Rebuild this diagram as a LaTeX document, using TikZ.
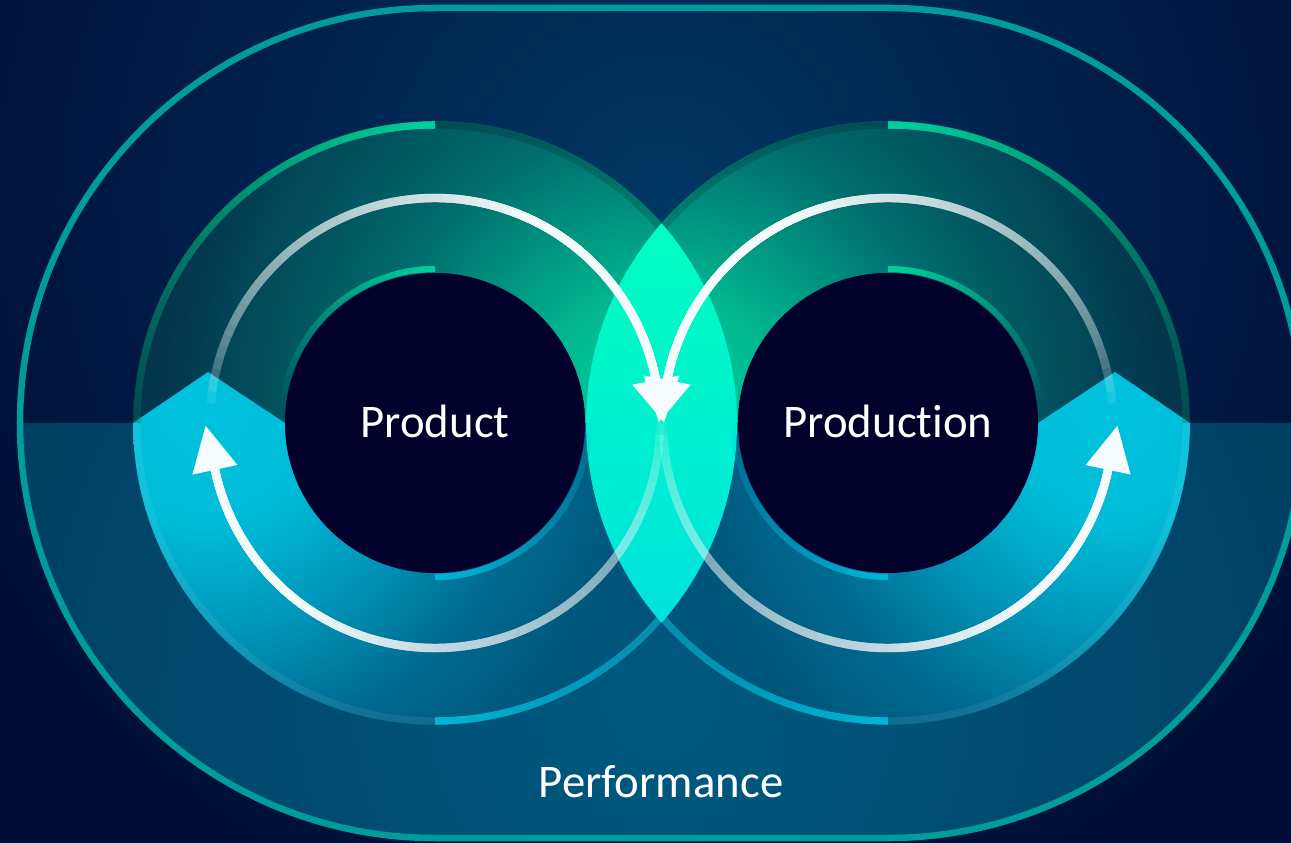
\documentclass[tikz,border=0pt]{standalone}
\usepackage{fontspec}
\setmainfont{Carlito}[Ligatures=NoCommon]
\definecolor{bgA}{HTML}{003863}
\definecolor{bgB}{HTML}{001F4C}
\definecolor{bgC}{HTML}{000E36}
\definecolor{lowA}{HTML}{005A80}
\definecolor{lowB}{HTML}{004A70}
\definecolor{lowC}{HTML}{003C60}
\definecolor{gA}{HTML}{00D4A2}
\definecolor{gB}{HTML}{00B48E}
\definecolor{gC}{HTML}{006A6C}
\definecolor{gD}{HTML}{03354D}
\definecolor{cA}{HTML}{00C2DE}
\definecolor{cB}{HTML}{00BCD8}
\definecolor{cC}{HTML}{0096BA}
\definecolor{cD}{HTML}{006A90}
\definecolor{cE}{HTML}{00557A}
\definecolor{lensT}{HTML}{00FFC0}
\definecolor{lensB}{HTML}{00E2DE}
\definecolor{core}{HTML}{00002A}
\definecolor{stadC}{HTML}{009C9C}
\definecolor{accG}{HTML}{00D4A0}
\definecolor{accC}{HTML}{00B8D8}
\definecolor{arrW}{HTML}{F6FBFD}
\pgfdeclareradialshading{bgsh}{\pgfpoint{0bp}{0bp}}{color(0bp)=(bgA); color(7.5bp)=(bgB); color(14bp)=(bgC); color(50bp)=(bgC)}
\pgfdeclareradialshading{lowsh}{\pgfpoint{0bp}{0bp}}{color(0bp)=(lowA); color(10bp)=(lowB); color(20bp)=(lowC); color(50bp)=(lowC)}
\pgfdeclareradialshading{ringG}{\pgfpoint{0bp}{0bp}}{color(0bp)=(gA); color(4bp)=(gB); color(10bp)=(gC); color(17.5bp)=(gD); color(50bp)=(gD)}
\pgfdeclareradialshading{ringC}{\pgfpoint{0bp}{0bp}}{color(0bp)=(cA); color(3.95bp)=(cB); color(7.85bp)=(cC); color(11.8bp)=(cD); color(15.7bp)=(cE); color(50bp)=(cE)}
% layered fading arc: #1 centre, #2 radius, #3 style, #4 fixed end angle, #5 list of start angles, #6 step, #7 opacity function
\newcommand\layarc[7]{%
  \foreach \v in {#5}{%
    \pgfmathsetmacro\hc{min(0.995,max(0,#7(\v)))}%
    \pgfmathsetmacro\hp{min(0.995,max(0,#7(\v-(#6))))}%
    \pgfmathsetmacro\al{max(0,1-(1-\hc)/(1-\hp))}%
    \draw[#3, opacity=\al] (#1) ++(\v:#2) arc[start angle=\v, end angle=#4, radius=#2];}}
\tikzset{
  stad/.style={draw=stadC, line width=1.85pt},
  accoutG/.style={draw=accG, line width=2pt},
  accoutC/.style={draw=accC, line width=2pt},
  accinG/.style={draw=accG, line width=1.7pt},
  accinC/.style={draw=accC, line width=1.7pt},
  warc/.style={draw=arrW, line width=2.4pt},
  whead/.style={fill=arrW},
  lbl/.style={text=white, font=\fontsize{13.3}{16}\selectfont, inner sep=0pt, anchor=base},
  edge dark/.style={draw=black, opacity=0.15, line width=2pt},
  edge light/.style={draw=white, opacity=0.07, line width=2pt}
}
\begin{document}
\begin{tikzpicture}[x=0.01cm,y=0.01cm,
  declare function={
    wLt(\a)=sqrt(max(0,176-\a)/110);
    wLb(\a)=sqrt(max(0,361-\a)/130);
    wRt(\a)=sqrt(max(0,\a-4)/110);
    wRb(\a)=sqrt(max(0,\a-179)/130);
    oLt(\a)=ifthenelse(\a>181,0,1-(\a-90)/110);
    oRt(\a)=ifthenelse(\a<-1,0,1-(90-\a)/110);
    oLb(\a)=ifthenelse(\a>322,0,1-(\a-270)/100);
    oRb(\a)=ifthenelse(\a<218,0,1-(270-\a)/100);
    iLt(\a)=ifthenelse(\a>181,0,1-(\a-90)/85);
    iRt(\a)=ifthenelse(\a<-1,0,1-(90-\a)/85);
    iLb(\a)=ifthenelse(\a>361,0,1-(\a-270)/100);
    iRb(\a)=ifthenelse(\a<179,0,1-(270-\a)/100);
  }]
\useasboundingbox (0,0) rectangle (1291,842);
\clip (0,0) rectangle (1291,842);
\coordinate (L) at (435,419);
\coordinate (R) at (888,419);
% background
\fill[bgC] (0,0) rectangle (1291,842);
\shade[shading=bgsh] (661,642) circle (1400);
% lower half of stadium
\begin{scope}
\clip (435,419) -- (1303,419) arc[start angle=0,end angle=-90,radius=415] -- (435,4) arc[start angle=270,end angle=180,radius=415] -- cycle;
\shade[shading=lowsh] (661,142) circle (1000);
\end{scope}
% stadium outline
\draw[stad] (435,834) -- (888,834) arc[start angle=90,end angle=-90,radius=415] -- (435,4) arc[start angle=270,end angle=90,radius=415] -- cycle;
% left ring
\begin{scope}
\clip (737,419) arc[start angle=0,end angle=180,radius=302] -- (285,419) arc[start angle=180,end angle=0,radius=150] -- cycle;
\shade[shading=ringG] (650,442) circle (700);
\end{scope}
\begin{scope}
\clip (133,419) -- (208,470) -- (285,419) arc[start angle=180,end angle=360,radius=150] -- (737,419) arc[start angle=0,end angle=-180,radius=302] -- cycle;
\shade[shading=ringC] (205,430) circle (700);
\end{scope}
% right ring
\begin{scope}
\clip (1190,419) arc[start angle=0,end angle=180,radius=302] -- (738,419) arc[start angle=180,end angle=0,radius=150] -- cycle;
\shade[shading=ringG] (673,442) circle (700);
\end{scope}
\begin{scope}
\clip (1190,419) -- (1115,470) -- (1038,419) arc[start angle=0,end angle=-180,radius=150] -- (586,419) arc[start angle=180,end angle=360,radius=302] -- cycle;
\shade[shading=ringC] (1118,430) circle (700);
\end{scope}
% subtle ring edges
\draw[edge dark] (L) ++(0:298) arc[start angle=0,end angle=180,radius=298];
\draw[edge dark] (R) ++(0:298) arc[start angle=0,end angle=180,radius=298];
\draw[edge light] (L) ++(180:298) arc[start angle=180,end angle=360,radius=298];
\draw[edge light] (R) ++(180:298) arc[start angle=180,end angle=360,radius=298];
% outer accents
\layarc{L}{298}{accoutG}{90}{180,177,...,93}{-3}{oLt}
\layarc{R}{298}{accoutG}{90}{0,3,...,87}{3}{oRt}
\layarc{L}{298}{accoutC}{270}{321,318,...,273}{-3}{oLb}
\layarc{R}{298}{accoutC}{270}{219,222,...,267}{3}{oRb}
% lens
\shade[top color=lensT, bottom color=lensB] (661.5,618.7) arc[start angle=138.59,end angle=221.41,radius=302] arc[start angle=-41.41,end angle=41.41,radius=302] -- cycle;
% cores
\fill[core] (L) circle (150);
\fill[core] (R) circle (150);
% inner accents
\layarc{L}{154}{accinG}{90}{180,177,...,93}{-3}{iLt}
\layarc{R}{154}{accinG}{90}{0,3,...,87}{3}{iRt}
\layarc{L}{154}{accinC}{270}{360,357,...,273}{-3}{iLb}
\layarc{R}{154}{accinC}{270}{180,183,...,267}{3}{iRb}
% white arcs
\layarc{L}{225}{warc}{11}{175,172,...,16}{-3}{wLt}
\layarc{L}{225}{warc}{192}{360,357,...,195}{-3}{wLb}
\layarc{R}{225}{warc}{169}{5,8,...,164}{3}{wRt}
\layarc{R}{225}{warc}{348}{180,183,...,345}{3}{wRb}
% arrowheads
\begin{scope}[shift={(L)}, rotate=11]
\fill[whead] (201,0) -- (249,0) -- (225,-43) -- cycle;
\end{scope}
\begin{scope}[shift={(L)}, rotate=192]
\fill[whead] (202,0) -- (248,0) -- (225,-45) -- cycle;
\end{scope}
\begin{scope}[shift={(R)}, rotate=169]
\fill[whead] (201,0) -- (249,0) -- (225,43) -- cycle;
\end{scope}
\begin{scope}[shift={(R)}, rotate=348]
\fill[whead] (202,0) -- (248,0) -- (225,45) -- cycle;
\end{scope}
% labels
\node[lbl] (prod) at (435,405) {Product};
\node[lbl] (prodn) at (888,405) {Production};
\node[lbl] (perf) at (661,45) {Performance};
\end{tikzpicture}
\end{document}
